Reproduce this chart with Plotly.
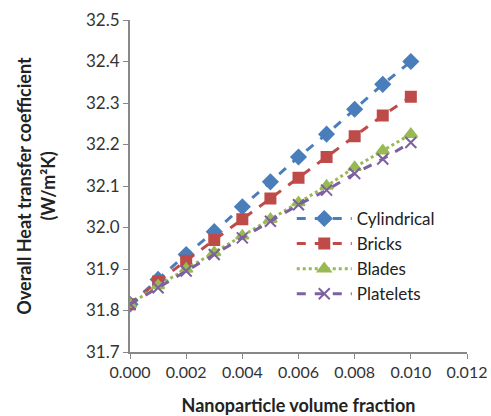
import plotly.graph_objects as go

x_vals = [0.000, 0.001, 0.002, 0.003, 0.004, 0.005, 0.006, 0.007, 0.008, 0.009, 0.010]
cylindrical = [31.815, 31.875, 31.935, 31.99, 32.05, 32.11, 32.17, 32.225, 32.285, 32.345, 32.40]
bricks = [31.815, 31.87, 31.92, 31.97, 32.02, 32.07, 32.12, 32.17, 32.22, 32.27, 32.315]
blades = [31.815, 31.86, 31.90, 31.94, 31.98, 32.02, 32.06, 32.10, 32.145, 32.185, 32.225]
platelets = [31.815, 31.855, 31.895, 31.935, 31.975, 32.015, 32.055, 32.09, 32.13, 32.165, 32.205]

x_ticks = [0.000, 0.002, 0.004, 0.006, 0.008, 0.010, 0.012]
y_ticks = [31.7, 31.8, 31.9, 32.0, 32.1, 32.2, 32.3, 32.4, 32.5]

series = [
    ("Cylindrical", cylindrical, "#4a7ebb", "dash", "diamond", 11),
    ("Bricks", bricks, "#be4b48", "dash", "square", 10),
    ("Blades", blades, "#98b954", "dot", "triangle-up", 11),
    ("Platelets", platelets, "#7d60a0", "dash", "x-thin", 11),
]

fig = go.Figure()
for name, ys, color, dash, sym, size in series:
    fig.add_trace(go.Scatter(
        x=x_vals, y=ys, name=name, mode="lines+markers",
        line=dict(color=color, width=3, dash=dash),
        marker=dict(symbol=sym, size=size, color=color,
                    line=dict(color=color, width=2)),
    ))

font_fam = "Lato, Open Sans, sans-serif"
fig.update_layout(
    width=491, height=416,
    margin=dict(l=130, r=24, t=20, b=64),
    paper_bgcolor="white", plot_bgcolor="white",
    font=dict(family=font_fam, size=17, color="#333333"),
    showlegend=True,
    legend=dict(x=0.48, y=0.455, xanchor="left", yanchor="top",
                bgcolor="rgba(255,255,255,0)", font=dict(size=17, color="#222222"),
                tracegroupgap=0, itemwidth=55),
    xaxis=dict(
        range=[0, 0.012], tickvals=x_ticks, automargin=False,
        ticktext=[f"{v:.3f}" for v in x_ticks],
        showgrid=False, zeroline=False, showline=True,
        linecolor="#888888", linewidth=2, ticks="outside", ticklen=5,
        tickcolor="#888888", tickfont=dict(size=16, color="#333333"),
        title=dict(text="<b>Nanoparticle volume fraction</b>",
                   font=dict(size=18, color="#222222"), standoff=20),
    ),
    yaxis=dict(
        range=[31.7, 32.5], tickvals=y_ticks, automargin=False,
        ticktext=[f"{v:.1f}" for v in y_ticks],
        showgrid=False, zeroline=False, showline=True,
        linecolor="#888888", linewidth=2, ticks="outside", ticklen=5,
        tickcolor="#888888", tickfont=dict(size=17, color="#333333"),
        title=dict(text="<b>Overall Heat transfer coefficient<br>(W/m²K)</b>",
                   font=dict(size=18, color="#222222"), standoff=26),
    ),
)

fig.write_html("out.html")
